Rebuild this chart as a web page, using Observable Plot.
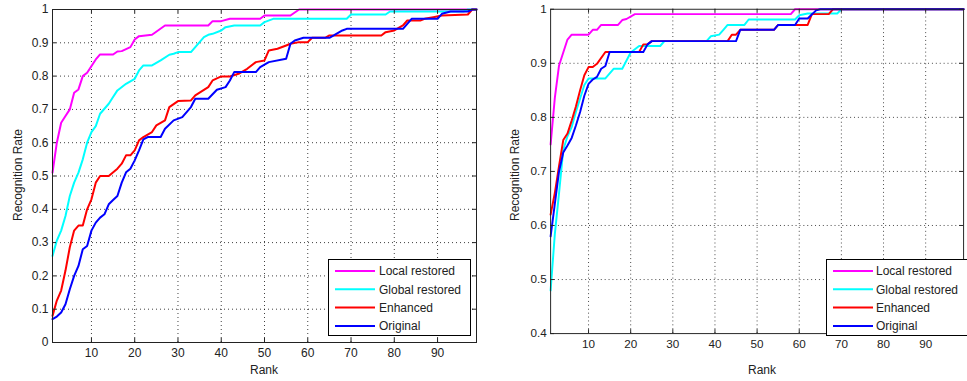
<!DOCTYPE html>
<html>
<head>
<meta charset="utf-8">
<script src="https://cdn.jsdelivr.net/npm/d3@7"></script>
<script src="https://cdn.jsdelivr.net/npm/@observablehq/plot@0.6"></script>
<style>
  html, body { margin: 0; padding: 0; background: #fff; }
  body { width: 967px; height: 381px; overflow: hidden; position: relative; font-family: "Liberation Sans", Arial, sans-serif; color: #222; }
  .panel { position: absolute; top: 0; }
  .ylab { position: absolute; font-size: 12px; white-space: nowrap; transform: translate(-50%, -50%) rotate(-90deg); }
  .xlab { position: absolute; font-size: 12px; white-space: nowrap; transform: translate(-50%, -50%); }
  .legend { position: absolute; box-sizing: border-box; border: 1px solid #000; background: #fff; }
</style>
</head>
<body>
<div id="left" class="panel" style="left:0px"></div>
<div id="right" class="panel" style="left:480px"></div>
<div class="ylab" style="left:18px; top:175px">Recognition Rate</div>
<div class="ylab" style="left:515px; top:175px">Recognition Rate</div>
<div class="xlab" style="left:264px; top:370px">Rank</div>
<div class="xlab" style="left:762px; top:370px">Rank</div>
<div id="legL" class="legend" style="left:328px; top:259px; width:143px; height:77px"></div>
<div id="legR" class="legend" style="left:826px; top:259px; width:143px; height:77px"></div>
<script>
// ---- data ----
const seriesNames = ["Local restored", "Global restored", "Enhanced", "Original"];
const seriesColors = ["#ff00ff", "#00ffff", "#ff0000", "#0000ff"];
const rankTicks = [10, 20, 30, 40, 50, 60, 70, 80, 90];
const rateTicksLeft = [0, 0.1, 0.2, 0.3, 0.4, 0.5, 0.6, 0.7, 0.8, 0.9, 1];
const rateTicksRight = [0.4, 0.5, 0.6, 0.7, 0.8, 0.9, 1];

// Left panel: [rank, recognition rate]
const leftLocal = [[1,0.51],[2,0.60],[3,0.66],[4,0.68],[5,0.70],[6,0.75],[7,0.76],[8,0.80],[9,0.81],[11,0.85],[12,0.865],[15,0.865],[16,0.874],[17,0.875],[19,0.887],[20,0.91],[21,0.92],[24,0.924],[27,0.952],[37,0.952],[38,0.965],[40,0.965],[42,0.972],[49,0.972],[50,0.982],[56,0.982],[58,1.0],[99,1.0]];
const leftGlobal = [[1,0.26],[2,0.306],[3,0.336],[4,0.38],[5,0.44],[6,0.48],[7,0.51],[8,0.55],[9,0.60],[10,0.632],[11,0.65],[12,0.687],[14,0.717],[15,0.737],[16,0.757],[18,0.777],[20,0.792],[21,0.817],[22,0.832],[24,0.832],[26,0.847],[28,0.864],[29,0.867],[30,0.872],[33,0.872],[34,0.887],[36,0.917],[37,0.924],[38,0.927],[40,0.937],[41,0.947],[43,0.952],[49,0.952],[50,0.962],[52,0.972],[69,0.972],[70,0.985],[78,0.985],[79,0.994],[96,0.994],[97,1.0],[99,1.0]];
const leftEnhanced = [[1,0.08],[2,0.126],[3,0.156],[4,0.216],[5,0.286],[6,0.336],[7,0.351],[8,0.351],[9,0.40],[10,0.43],[11,0.48],[12,0.50],[14,0.50],[16,0.522],[17,0.537],[18,0.562],[19,0.562],[20,0.577],[21,0.607],[22,0.617],[24,0.632],[25,0.652],[27,0.667],[28,0.707],[30,0.725],[33,0.727],[34,0.742],[37,0.767],[38,0.787],[40,0.799],[42,0.799],[44,0.807],[46,0.822],[48,0.842],[50,0.847],[51,0.877],[53,0.882],[55,0.892],[56,0.897],[58,0.902],[60,0.902],[61,0.915],[64,0.915],[65,0.922],[77,0.922],[78,0.932],[80,0.937],[82,0.952],[83,0.967],[86,0.967],[87,0.972],[89,0.977],[91,0.982],[97,0.985],[98,1.0],[99,1.0]];
const leftOriginal = [[1,0.07],[2,0.078],[3,0.09],[4,0.115],[5,0.16],[6,0.20],[7,0.23],[8,0.28],[9,0.29],[10,0.336],[11,0.36],[12,0.375],[13,0.385],[14,0.415],[15,0.428],[16,0.44],[17,0.48],[18,0.511],[19,0.522],[20,0.547],[21,0.577],[22,0.61],[23,0.617],[26,0.617],[27,0.642],[29,0.667],[31,0.677],[33,0.707],[34,0.732],[37,0.732],[39,0.759],[41,0.767],[42,0.787],[43,0.812],[48,0.812],[49,0.827],[51,0.842],[55,0.852],[56,0.897],[57,0.907],[59,0.915],[65,0.915],[66,0.922],[68,0.937],[69,0.942],[82,0.942],[84,0.972],[90,0.972],[91,0.987],[93,0.994],[97,0.994],[98,1.0],[99,1.0]];

// Right panel: [rank, recognition rate]
const rightLocal = [[1,0.75],[2,0.836],[3,0.896],[4,0.92],[5,0.944],[6,0.953],[10,0.953],[11,0.962],[12,0.962],[13,0.971],[17,0.971],[18,0.98],[19,0.982],[21,0.991],[58,0.991],[59,1.0],[99,1.0]];
const rightGlobal = [[1,0.48],[2,0.584],[3,0.66],[4,0.74],[5,0.765],[6,0.782],[7,0.81],[8,0.835],[9,0.86],[10,0.872],[14,0.872],[16,0.89],[18,0.89],[20,0.92],[22,0.932],[27,0.932],[28,0.941],[38,0.941],[39,0.95],[41,0.953],[42,0.962],[43,0.971],[47,0.971],[48,0.981],[59,0.981],[60,0.989],[62,0.992],[69,0.992],[70,1.0],[99,1.0]];
const rightEnhanced = [[1,0.62],[2,0.66],[3,0.71],[4,0.758],[5,0.77],[6,0.794],[7,0.82],[8,0.85],[9,0.878],[10,0.893],[11,0.893],[12,0.899],[14,0.921],[22,0.921],[23,0.935],[24,0.935],[25,0.941],[43,0.941],[44,0.953],[45,0.953],[46,0.962],[54,0.962],[55,0.971],[62,0.971],[63,0.991],[67,0.991],[68,1.0],[99,1.0]];
const rightOriginal = [[1,0.58],[2,0.64],[3,0.70],[4,0.735],[5,0.748],[6,0.762],[7,0.785],[8,0.81],[9,0.84],[10,0.862],[11,0.87],[12,0.875],[13,0.89],[14,0.895],[15,0.921],[23,0.921],[24,0.935],[25,0.941],[45,0.941],[46,0.962],[54,0.962],[55,0.971],[59,0.971],[60,0.983],[62,0.983],[64,0.998],[65,1.0],[99,1.0]];

function toRows(seriesList) {
  const rows = [];
  seriesList.forEach((pts, i) => pts.forEach(([rank, rate]) => rows.push({rank, rate, series: seriesNames[i]})));
  return rows;
}

function panel({rows, yDomain, yTicks, width, marginLeft, marginRight}) {
  const height = 381, marginTop = 9, marginBottom = 39;
  const pw = width - marginLeft - marginRight;
  const ph = height - marginTop - marginBottom;
  const innerY = yTicks.filter(v => v > yDomain[0] && v < yDomain[1]);
  return Plot.plot({
    width, height, marginLeft, marginRight, marginTop, marginBottom,
    style: {fontFamily: "'Liberation Sans', Arial, sans-serif", fontSize: "12px", color: "#222", background: "transparent", overflow: "visible"},
    x: {domain: [1, 99], label: null},
    y: {domain: yDomain, label: null},
    color: {domain: seriesNames, range: seriesColors},
    marks: [
      Plot.ruleX(rankTicks, {x: d => d, stroke: "#000", strokeOpacity: 0.75, strokeDasharray: "1,3"}),
      Plot.ruleY(innerY, {y: d => d, stroke: "#000", strokeOpacity: 0.75, strokeDasharray: "1,3"}),
      Plot.line(rows, {x: "rank", y: "rate", z: "series", stroke: "series", strokeWidth: 2}),
      Plot.frame({stroke: "#222"}),
      Plot.tickX(rankTicks, {x: d => d, insetTop: ph - 4, stroke: "#222"}),
      Plot.tickX(rankTicks, {x: d => d, insetBottom: ph - 4, stroke: "#222"}),
      Plot.tickY(yTicks, {y: d => d, insetRight: pw - 4, stroke: "#222"}),
      Plot.tickY(yTicks, {y: d => d, insetLeft: pw - 4, stroke: "#222"}),
      Plot.axisX({ticks: rankTicks, tickSize: 0, tickPadding: 6, fill: "#222", tickFormat: d => String(d)}),
      Plot.axisY({ticks: yTicks, tickSize: 0, tickPadding: 4, fill: "#222", tickFormat: d => String(d)})
    ]
  });
}

document.getElementById("left").append(panel({
  rows: toRows([leftLocal, leftGlobal, leftEnhanced, leftOriginal]),
  yDomain: [0, 1], yTicks: rateTicksLeft, width: 490, marginLeft: 52, marginRight: 14
}));
document.getElementById("right").append(panel({
  rows: toRows([rightLocal, rightGlobal, rightEnhanced, rightOriginal]),
  yDomain: [0.4, 1], yTicks: rateTicksRight, width: 500, marginLeft: 72, marginRight: 4
}));

function legend(el, textX) {
  const svg = d3.select(el).append("svg").attr("width", 143).attr("height", 77).style("display", "block");
  seriesNames.forEach((name, i) => {
    const cy = 11 + i * 18.3;
    svg.append("line").attr("x1", 6).attr("x2", 46).attr("y1", cy).attr("y2", cy)
      .attr("stroke", seriesColors[i]).attr("stroke-width", 2);
    svg.append("text").attr("x", textX).attr("y", cy).attr("dy", "0.35em")
      .attr("font-family", "'Liberation Sans', Arial, sans-serif").attr("font-size", 12)
      .attr("fill", "#222").text(name);
  });
}
legend(document.getElementById("legL"), 50);
legend(document.getElementById("legR"), 49);
</script>
</body>
</html>
